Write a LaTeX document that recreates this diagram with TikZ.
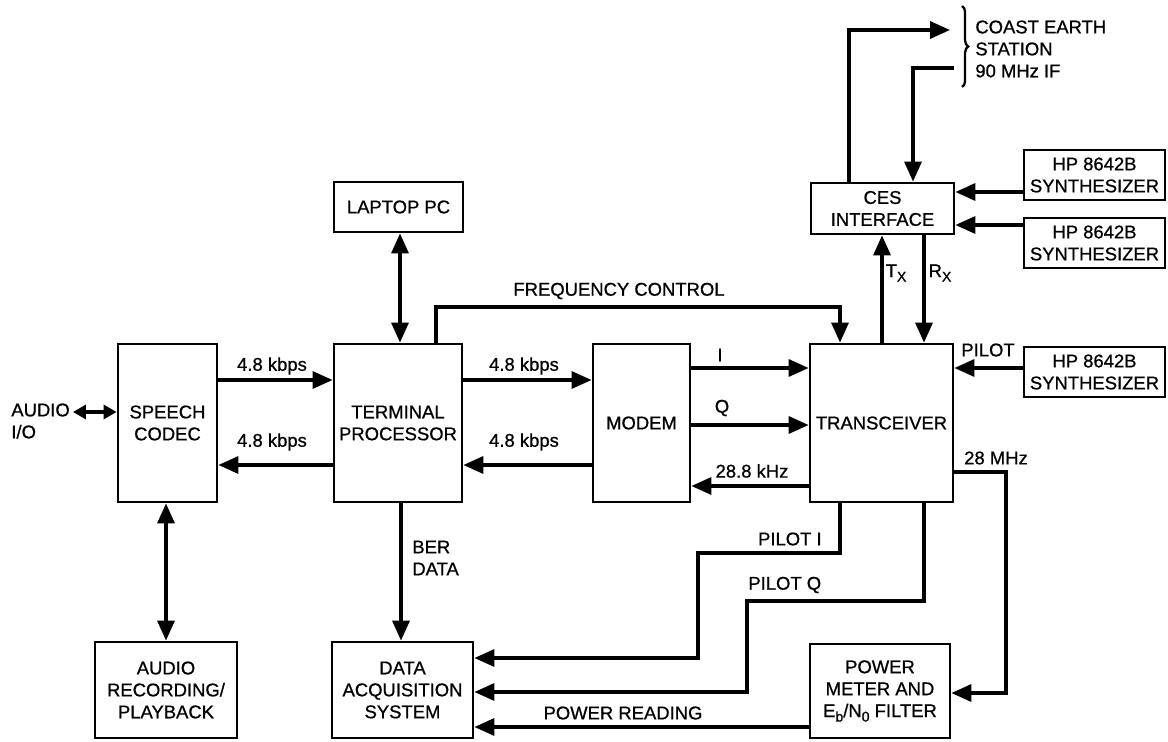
\documentclass[tikz,border=0pt]{standalone}
\usepackage{fontspec}
\setmainfont{Liberation Sans}[FakeBold=0]
\newfontfamily\heavyfont{Liberation Sans}[FakeBold=0.8]
\usetikzlibrary{arrows.meta,decorations.pathreplacing}
\newcommand{\sbx}[1]{\raisebox{-0.45ex}{\fontsize{8}{8}\selectfont #1}}
\begin{document}
\begin{tikzpicture}[x=0.02cm,y=-0.02cm,
  txt/.style={font=\heavyfont\fontsize{10.5}{12.5}\selectfont},
  box/.style={draw, line width=1.6pt, align=center, inner sep=0pt, txt},
  lbl/.style={inner sep=0pt, txt},
  conn/.style={-{Triangle[length=0.4cm,width=0.34cm]}, line width=1.9pt},
  dconn/.style={{Triangle[length=0.4cm,width=0.34cm]}-{Triangle[length=0.4cm,width=0.34cm]}, line width=1.9pt},
  sdconn/.style={{Triangle[length=0.26cm,width=0.28cm]}-{Triangle[length=0.26cm,width=0.28cm]}, line width=1.9pt},
  line join=miter]
\useasboundingbox (0,0) rectangle (1168,742);

% boxes
\node[box, minimum width=1.98cm, minimum height=3.16cm] (codec) at (167.5,423) {SPEECH\\CODEC};
\node[box, minimum width=2.56cm, minimum height=3.16cm] (term) at (398,423) {TERMINAL\\PROCESSOR};
\node[box, minimum width=1.94cm, minimum height=3.16cm] (modem) at (641.5,423) {MODEM};
\node[box, minimum width=2.86cm, minimum height=3.16cm] (trans) at (881.5,423) {TRANSCEIVER};
\node[box, minimum width=2.58cm, minimum height=1.0cm] (laptop) at (398.5,207) {LAPTOP PC};
\node[box, minimum width=2.86cm, minimum height=1.02cm] (ces) at (882.5,208.5) {CES\\INTERFACE};
\node[box, minimum width=2.82cm, minimum height=1.0cm] (synA) at (1094.5,175) {HP 8642B\\SYNTHESIZER};
\node[box, minimum width=2.82cm, minimum height=1.0cm] (synB) at (1094.5,243) {HP 8642B\\SYNTHESIZER};
\node[box, minimum width=2.82cm, minimum height=1.0cm] (synC) at (1094.5,372) {HP 8642B\\SYNTHESIZER};
\node[box, minimum width=2.84cm, minimum height=1.92cm] (arec) at (166,690) {AUDIO\\RECORDING/\\PLAYBACK};
\node[box, minimum width=2.82cm, minimum height=1.92cm] (das) at (402.5,690) {DATA\\ACQUISITION\\SYSTEM};
\node[box, minimum width=2.8cm, minimum height=1.88cm] (pmeter) at (880,691) {POWER\\METER AND\\E\sbx{b}/N\sbx{0} FILTER};

% helper levels
\coordinate (y192) at (0,192);
\coordinate (y225) at (0,225);
\coordinate (y307) at (0,307);
\coordinate (y368) at (0,368);
\coordinate (y380) at (0,380);
\coordinate (y412) at (0,412);
\coordinate (y425) at (0,425);
\coordinate (y465) at (0,465);
\coordinate (y472) at (0,472);
\coordinate (y486) at (0,486);
\coordinate (y553) at (0,553);
\coordinate (y601) at (0,601);
\coordinate (y658) at (0,658);
\coordinate (y692) at (0,692);
\coordinate (y693) at (0,693);
\coordinate (y727) at (0,727);
\coordinate (x166) at (166,0);
\coordinate (x400) at (400,0);
\coordinate (x401) at (401,0);
\coordinate (x436) at (436,0);
\coordinate (x698) at (698,0);
\coordinate (x747) at (747,0);
\coordinate (x840) at (840,0);
\coordinate (x849) at (849,0);
\coordinate (x882) at (882,0);
\coordinate (x913) at (913,0);
\coordinate (x924) at (924,0);
\coordinate (x1006) at (1006,0);
\coordinate (aio) at (73,412);
\coordinate (cesout) at (950,30);
\coordinate (cesin) at (954,68);

% connectors
\draw[sdconn] (aio) -- (codec.west |- y412);
\draw[conn] (codec.east |- y380) -- (term.west |- y380);
\draw[conn] (term.west |- y465) -- (codec.east |- y465);
\draw[conn] (term.east |- y380) -- (modem.west |- y380);
\draw[conn] (modem.west |- y465) -- (term.east |- y465);
\draw[conn] (modem.east |- y368) -- (trans.west |- y368);
\draw[conn] (modem.east |- y425) -- (trans.west |- y425);
\draw[conn] (trans.west |- y486) -- (modem.east |- y486);
\draw[dconn] (laptop.south -| x400) -- (term.north -| x400);
\draw[conn] (term.north -| x436) |- (x840 |- y307) -- (trans.north -| x840);
\draw[conn] (trans.north -| x882) -- (ces.south -| x882);
\draw[conn] (ces.south -| x924) -- (trans.north -| x924);
\draw[conn] (ces.north -| x849) |- (cesout);
\draw[conn] (cesin) -| (ces.north -| x913);
\draw[conn] (synA.west |- y192) -- (ces.east |- y192);
\draw[conn] (synB.west |- y225) -- (ces.east |- y225);
\draw[conn] (synC.west |- y368) -- (trans.east |- y368);
\draw[dconn] (codec.south -| x166) -- (arec.north -| x166);
\draw[conn] (term.south -| x401) -- (das.north -| x401);
\draw[conn] (trans.south -| x840) |- (x698 |- y553) |- (das.east |- y658);
\draw[conn] (trans.south -| x924) |- (x747 |- y601) |- (das.east |- y692);
\draw[conn] (trans.east |- y472) -| (x1006 |- y693) -- (pmeter.east |- y693);
\draw[conn] (pmeter.west |- y727) -- (das.east |- y727);

% brace
\draw[line width=1.3pt, decorate, decoration={brace, amplitude=3.5pt}] (962,6) -- (962,87);

% labels
\node[lbl, anchor=west, align=left] (laio) at (11,421) {AUDIO\\I/O};
\node[lbl] (l1) at (272,366) {4.8 kbps};
\node[lbl] (l2) at (272,442) {4.8 kbps};
\node[lbl] (l3) at (524,366) {4.8 kbps};
\node[lbl] (l4) at (524,442) {4.8 kbps};
\node[lbl] (lI) at (720,355) {I};
\node[lbl] (lQ) at (722,408) {Q};
\node[lbl] (l288) at (752,471) {28.8 kHz};
\node[lbl] (lfc) at (619,291) {FREQUENCY CONTROL};
\node[lbl] (ltx) at (896,273) {T\sbx{X}};
\node[lbl] (lrx) at (940,273) {R\sbx{X}};
\node[lbl] (lpilot) at (988,350) {PILOT};
\node[lbl] (l28) at (996,458) {28 MHz};
\node[lbl, anchor=east] (lpi) at (822,539) {PILOT I};
\node[lbl, anchor=west] (lpq) at (748,585) {PILOT Q};
\node[lbl, anchor=west, align=left] (lber) at (412,558) {BER\\DATA};
\node[lbl] (lpr) at (623,713) {POWER READING};
\node[lbl, anchor=west, align=left] (lces) at (975,49) {COAST EARTH\\STATION\\90 MHz IF};
\end{tikzpicture}
\end{document}
